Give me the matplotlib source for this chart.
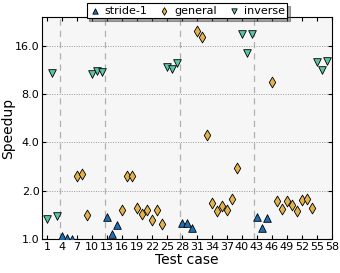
import matplotlib
matplotlib.use("Agg")
import matplotlib.pyplot as plt
import numpy as np

stride_cases = [4, 5, 6, 13, 14, 15, 28, 29, 30, 43, 44, 45]
stride_vals = [1.05, 1.015, 1.01, 1.38, 1.08, 1.23, 1.26, 1.27, 1.17, 1.37, 1.18, 1.36]

general_cases = [7, 8, 9, 16, 17, 18, 19, 20, 21, 22, 23, 24,
                 31, 32, 33, 34, 35, 36, 37, 38, 39,
                 46, 47, 48, 49, 50, 51, 52, 53, 54]
general_vals = [2.46, 2.54, 1.42, 1.52, 2.48, 2.48, 1.57, 1.43, 1.52, 1.31, 1.51, 1.24,
                19.6, 18.0, 4.45, 1.68, 1.50, 1.60, 1.51, 1.78, 2.79,
                9.46, 1.72, 1.54, 1.74, 1.64, 1.50, 1.76, 1.77, 1.57]

inverse_cases = [1, 2, 3, 10, 11, 12, 25, 26, 27, 40, 41, 42, 55, 56, 57]
inverse_vals = [1.33, 10.8, 1.40, 10.7, 11.1, 10.9, 11.7, 11.5, 12.5,
                18.95, 14.4, 18.95, 12.6, 11.35, 12.8]

group_bounds = [3.5, 12.5, 27.5, 42.5]
xticks = list(range(1, 59, 3))
yticks = [1.0, 2.0, 4.0, 8.0, 16.0]

fig = plt.figure(figsize=(3.4, 2.73), dpi=100)
ax = fig.add_axes([0.124, 0.1235, 0.852, 0.8135])
ax.set_facecolor('#f6f6f6')

ax.set_yscale('log', base=2)
ax.set_xlim(0, 58)
ax.set_ylim(1.0, 24)

for b in group_bounds:
    ax.axvline(b, color='#b0b0b0', linestyle=(0, (5, 4)), linewidth=0.9, zorder=1)
for t in yticks[1:]:
    ax.axhline(t, color='#999999', linestyle=(0, (1, 1.5)), linewidth=0.7, zorder=1)

ms = 5.5
ax.scatter(stride_cases, stride_vals, marker='^', s=ms**2, color='#1f6fb4',
           edgecolors='black', linewidths=0.6, label='stride-1', zorder=3)
ax.scatter(general_cases, general_vals, marker='d', s=ms**2, color='#e3b24a',
           edgecolors='black', linewidths=0.6, label='general', zorder=3)
ax.scatter(inverse_cases, inverse_vals, marker='v', s=ms**2, color='#5cc4a8',
           edgecolors='black', linewidths=0.6, label='inverse', zorder=3)

ax.set_xticks(xticks)
ax.set_xticklabels([str(x) for x in xticks])
ax.set_yticks(yticks)
ax.set_yticklabels(['%.1f' % t for t in yticks])
ax.yaxis.set_minor_locator(matplotlib.ticker.NullLocator())
ax.tick_params(axis='both', which='major', direction='in', top=True, right=True,
               labelsize=8, length=3, pad=2)

ax.set_xlabel('Test case', fontsize=10, labelpad=1)
ax.set_ylabel('Speedup', fontsize=10)
ax.yaxis.set_label_coords(-0.095, 0.5)

leg = ax.legend(loc='center', bbox_to_anchor=(0.5, 1.03), ncol=3, fontsize=8,
                shadow=True, fancybox=False, frameon=True, markerscale=0.7,
                handletextpad=0.4, columnspacing=1.0, borderpad=0.25,
                handlelength=1.0, borderaxespad=0)
leg.get_frame().set_edgecolor('black')
leg.get_frame().set_linewidth(0.8)

fig.savefig('out.png', dpi=100)
